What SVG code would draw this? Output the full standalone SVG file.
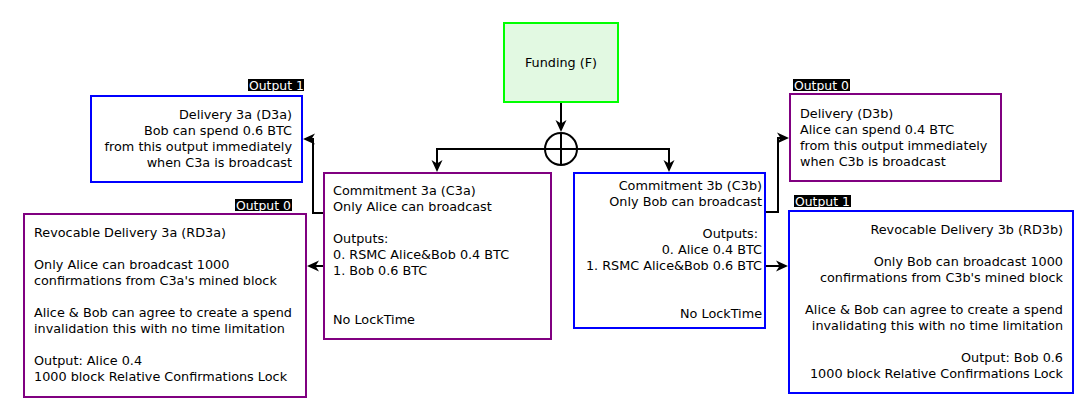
<svg xmlns="http://www.w3.org/2000/svg" width="1090" height="409" viewBox="0 0 1090 409">
<style>
text{font-family:"DejaVu Sans","Liberation Sans",sans-serif;font-size:12.8px;fill:#000}
.r{text-anchor:end}
.c{text-anchor:middle}
.box{fill:#fff;stroke-width:2}
.purple{stroke:#800080}
.blue{stroke:#0000ff}
.lbl{fill:#000}
.lt{fill:#fff;font-size:12.4px}
.conn{fill:none;stroke:#000;stroke-width:2}
</style>
<defs>
<marker id="arr" viewBox="0 0 12 12" refX="6" refY="6" markerWidth="12" markerHeight="12" markerUnits="userSpaceOnUse" orient="auto">
<path d="M0,0.5 L12,6 L0,11.5 L3.5,6 z" fill="#000"/>
</marker>
</defs>
<rect width="1090" height="409" fill="#fff"/>
<g id="connectors">
<path class="conn" d="M561,102 L561,126" marker-end="url(#arr)"/>
<path class="conn" d="M545,149 L437,149 L437,166" marker-end="url(#arr)"/>
<path class="conn" d="M577,149 L669,149 L669,166" marker-end="url(#arr)"/>
<path class="conn" d="M324,213 L313,213 L313,139 L309,139" marker-end="url(#arr)"/>
<path class="conn" d="M324,266 L313,266" marker-end="url(#arr)"/>
<path class="conn" d="M765,212 L778,212 L778,138 L783,138" marker-end="url(#arr)"/>
<path class="conn" d="M765,266 L782,266" marker-end="url(#arr)"/>
<g id="split">
<circle cx="561" cy="149" r="16" fill="#fff" stroke="#000" stroke-width="2"/>
<path d="M561,133 L561,165 M545,149 L577,149" stroke="#000" stroke-width="2"/>
</g>
</g>
<g id="funding">
<rect x="504" y="23" width="114" height="79" fill="#e2f9e2" stroke="#00ff00" stroke-width="2"/>
<text class="c" x="561" y="67">Funding (F)</text>
</g>
<g id="c3a">
<rect class="box purple" x="324" y="173" width="227" height="166"/>
<text x="333" y="195">Commitment 3a (C3a)</text>
<text x="333" y="211">Only Alice can broadcast</text>
<text x="333" y="243">Outputs:</text>
<text x="333" y="259">0. RSMC Alice&amp;Bob 0.4 BTC</text>
<text x="333" y="275">1. Bob 0.6 BTC</text>
<text x="333" y="324">No LockTime</text>
</g>
<g id="c3b">
<rect class="box blue" x="574" y="173" width="191" height="155"/>
<text class="r" x="762" y="190">Commitment 3b (C3b)</text>
<text class="r" x="762" y="206">Only Bob can broadcast</text>
<text class="r" x="758" y="238">Outputs:</text>
<text class="r" x="762" y="254">0. Alice 0.4 BTC</text>
<text class="r" x="762" y="270">1. RSMC Alice&amp;Bob 0.6 BTC</text>
<text class="r" x="762" y="318">No LockTime</text>
</g>
<g id="d3a">
<rect class="lbl" x="248" y="79" width="56" height="12"/>
<text class="lt" x="249" y="89.5">Output 1</text>
<rect class="box blue" x="91" y="96" width="211" height="86"/>
<text class="r" x="292" y="119">Delivery 3a (D3a)</text>
<text class="r" x="292" y="135">Bob can spend 0.6 BTC</text>
<text class="r" x="292" y="151">from this output immediately</text>
<text class="r" x="292" y="167">when C3a is broadcast</text>
</g>
<g id="rd3a">
<rect class="lbl" x="235" y="199" width="57" height="12"/>
<text class="lt" x="236" y="209.5">Output 0</text>
<rect class="box purple" x="24" y="214" width="282" height="183"/>
<text x="34" y="237">Revocable Delivery 3a (RD3a)</text>
<text x="34" y="269">Only Alice can broadcast 1000</text>
<text x="34" y="285">confirmations from C3a's mined block</text>
<text x="34" y="317">Alice &amp; Bob can agree to create a spend</text>
<text x="34" y="333">invalidation this with no time limitation</text>
<text x="34" y="365">Output: Alice 0.4</text>
<text x="34" y="381">1000 block Relative Confirmations Lock</text>
</g>
<g id="d3b">
<rect class="lbl" x="793" y="79" width="57" height="12"/>
<text class="lt" x="794" y="89.5">Output 0</text>
<rect class="box purple" x="790" y="94" width="211" height="87"/>
<text x="800" y="118">Delivery (D3b)</text>
<text x="800" y="134">Alice can spend 0.4 BTC</text>
<text x="800" y="150">from this output immediately</text>
<text x="800" y="166">when C3b is broadcast</text>
</g>
<g id="rd3b">
<rect class="lbl" x="794" y="195" width="57" height="12"/>
<text class="lt" x="795" y="205.5">Output 1</text>
<rect class="box blue" x="789" y="211" width="284" height="182"/>
<text class="r" x="1063" y="234">Revocable Delivery 3b (RD3b)</text>
<text class="r" x="1063" y="266">Only Bob can broadcast 1000</text>
<text class="r" x="1063" y="282">confirmations from C3b's mined block</text>
<text class="r" x="1063" y="314">Alice &amp; Bob can agree to create a spend</text>
<text class="r" x="1063" y="330">invalidating this with no time limitation</text>
<text class="r" x="1063" y="362">Output: Bob 0.6</text>
<text class="r" x="1063" y="378">1000 block Relative Confirmations Lock</text>
</g>
</svg>
